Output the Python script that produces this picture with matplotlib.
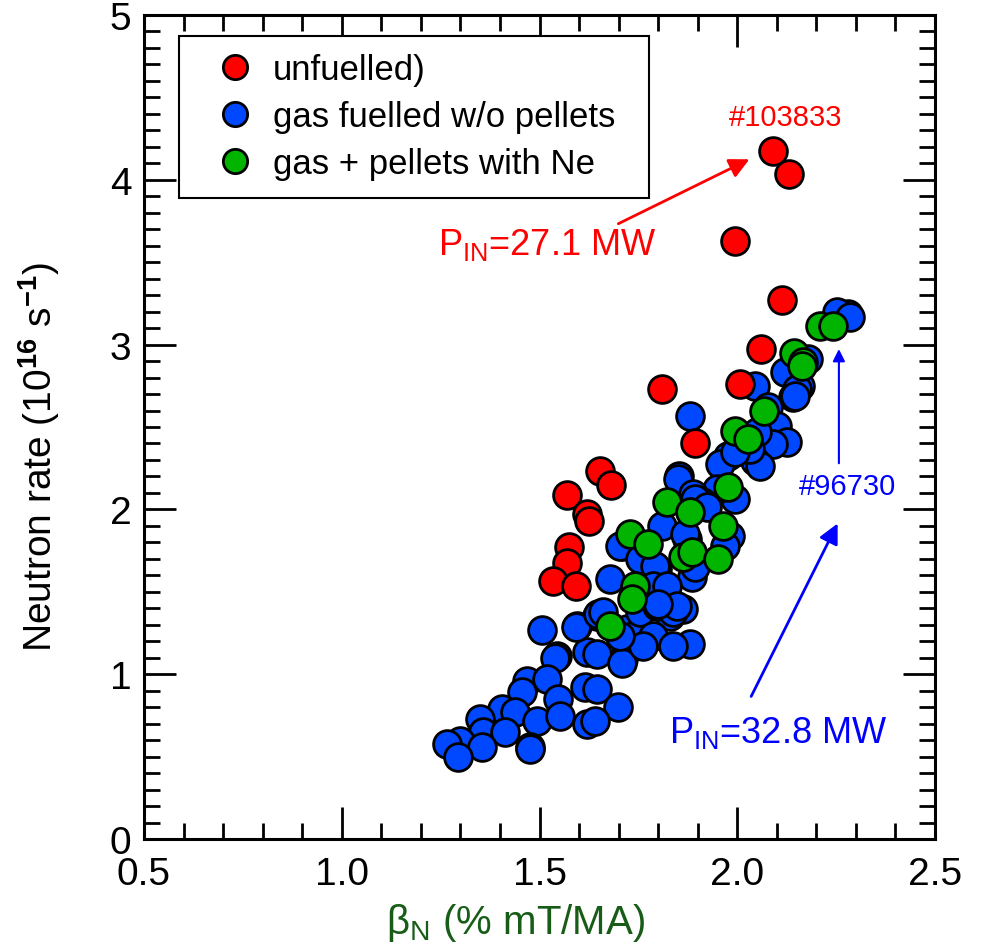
# neutron rate vs beta_N scatter, three fuelling groups

import matplotlib
matplotlib.use('Agg')
import matplotlib.pyplot as plt
import matplotlib.transforms as mtransforms
from matplotlib.ticker import MultipleLocator, FormatStrFormatter
from matplotlib.lines import Line2D

plt.rcParams['font.family'] = ['Liberation Sans', 'DejaVu Sans']
plt.rcParams['mathtext.fontset'] = 'custom'
plt.rcParams['mathtext.rm'] = 'Liberation Sans'
plt.rcParams['mathtext.it'] = 'Liberation Sans:italic'
plt.rcParams['mathtext.bf'] = 'Liberation Sans:bold'

# Data
red_x = [2.090, 2.131, 1.994, 2.113, 2.060, 1.810, 2.007, 1.893, 1.653, 1.681,
         1.570, 1.620, 1.625, 1.575, 1.570, 1.534, 1.592]
red_y = [4.175, 4.035, 3.629, 3.271, 2.973, 2.731, 2.761, 2.403, 2.233, 2.148,
         2.087, 1.972, 1.930, 1.772, 1.675, 1.566, 1.535]

green_x = [2.209, 2.242, 2.143, 2.166, 2.164, 2.068, 1.994, 2.027, 1.977, 1.822,
           1.881, 1.964, 1.729, 1.774, 1.863, 1.886, 1.951, 1.741, 1.734, 1.678]
green_y = [3.113, 3.113, 2.949, 2.894, 2.870, 2.597, 2.476, 2.427, 2.136, 2.045,
           1.984, 1.899, 1.851, 1.790, 1.711, 1.742, 1.699, 1.535, 1.456, 1.292]

blue_x = [2.260, 2.280, 2.252, 2.285, 2.128, 2.151, 2.159, 2.141, 2.121, 2.179,
          2.151, 2.045, 1.881, 2.078, 2.100, 2.126, 2.090, 2.050, 1.977, 2.045,
          2.058, 1.853, 2.032, 1.956, 1.994, 1.949, 1.982, 1.850, 1.888, 1.911,
          1.810, 1.873, 1.709, 1.762, 1.797, 1.886, 1.678, 1.779, 1.812, 1.863,
          1.805, 1.830, 1.881, 1.767, 1.721, 1.595, 1.645, 1.544, 1.620, 1.711,
          1.736, 1.506, 1.592, 1.648, 1.539, 1.645, 1.709, 1.468, 1.519, 1.456,
          1.547, 1.615, 1.645, 1.698, 1.405, 1.438, 1.494, 1.552, 1.620, 1.640,
          1.350, 1.357, 1.413, 1.299, 1.476, 1.266, 1.355, 1.754, 1.797, 1.838,
          1.787, 1.838, 1.762, 1.704, 1.294, 1.476, 1.994, 1.893, 1.923, 1.704,
          1.754, 1.792, 1.868, 1.893, 1.969, 1.787, 1.822, 1.848, 1.800, 1.661,
          2.146]
blue_y = [3.174, 3.186, 3.198, 3.167, 2.840, 2.791, 2.749, 2.682, 2.834, 2.913,
          2.731, 2.749, 2.567, 2.621, 2.506, 2.409, 2.397, 2.470, 2.324, 2.294,
          2.263, 2.203, 2.367, 2.276, 2.063, 2.124, 1.839, 2.184, 2.093, 2.045,
          1.899, 1.820, 1.778, 1.687, 1.638, 1.590, 1.578, 1.578, 1.535, 1.396,
          1.414, 1.353, 1.183, 1.232, 1.274, 1.292, 1.353, 1.110, 1.135, 1.092,
          1.232, 1.268, 1.286, 1.365, 1.098, 1.123, 1.068, 0.959, 0.971, 0.892,
          0.850, 0.922, 0.910, 0.801, 0.789, 0.771, 0.716, 0.746, 0.698, 0.716,
          0.728, 0.649, 0.649, 0.595, 0.558, 0.576, 0.558, 1.377, 1.414, 1.377,
          1.232, 1.171, 1.171, 1.232, 0.498, 0.546, 2.348, 2.063, 2.015, 1.778,
          1.699, 1.657, 1.851, 1.650, 1.778, 1.535, 1.535, 1.414, 1.426, 1.377,
          2.688]

labels = ['unfuelled)', 'gas fuelled w/o pellets', 'gas + pellets with Ne']
c_red = '#ff0000'
c_blue = '#0048ff'
c_green = '#00b400'

fig = plt.figure(figsize=(9.87, 9.45), dpi=100)
ax = fig.add_axes([144/987, 1 - 840/945, 791/987, 824/945])

ms = 400
ax.scatter(blue_x, blue_y, s=ms, c=c_blue, edgecolors='k', linewidths=2, zorder=3)
ax.scatter(green_x, green_y, s=ms, c=c_green, edgecolors='k', linewidths=2, zorder=4)
ax.scatter(red_x, red_y, s=ms, c=c_red, edgecolors='k', linewidths=2, zorder=5)

ax.set_xlim(0.5, 2.5)
ax.set_ylim(0, 5)
ax.xaxis.set_major_locator(MultipleLocator(0.5))
ax.xaxis.set_minor_locator(MultipleLocator(0.1))
ax.yaxis.set_major_locator(MultipleLocator(1))
ax.yaxis.set_minor_locator(MultipleLocator(0.1))
ax.xaxis.set_major_formatter(FormatStrFormatter('%.1f'))
ax.yaxis.set_major_formatter(FormatStrFormatter('%d'))
ax.tick_params(which='both', direction='in', top=True, right=True, width=2)
ax.tick_params(which='major', length=23, labelsize=28)
ax.tick_params(axis='x', which='major', pad=12)
ax.tick_params(axis='y', which='major', pad=9)
ax.tick_params(which='minor', length=11.5)
for sp in ax.spines.values():
    sp.set_linewidth(2.2)

# the "0" label sits a little higher in the original
lab0 = ax.yaxis.get_major_ticks()[0].label1
lab0.set_transform(lab0.get_transform() +
                   mtransforms.ScaledTranslation(0, 7/72, fig.dpi_scale_trans))

ax.set_xlabel(r'$\mathregular{\beta_N}$ (% mT/MA)', fontsize=29, color='#175c17')
ax.set_ylabel(r'Neutron rate (10$^{\mathbf{16}}$ s$^{\mathbf{-1}}$)', fontsize=28)
ax.xaxis.set_label_coords(0.47, -0.075)
ax.yaxis.set_label_coords(-0.104, 0.465)

# legend
handles = [Line2D([], [], ls='none', marker='o', ms=17.5, mfc=c, mec='k', mew=2)
           for c in (c_red, c_blue, c_green)]
leg = ax.legend(handles, labels, loc='upper left',
                bbox_to_anchor=(0.0442, 0.0, 470/791, 0.9745), mode='expand',
                borderaxespad=0, fontsize=25, frameon=True, fancybox=False,
                edgecolor='k', framealpha=1, handletextpad=-0.05, labelspacing=0.4,
                borderpad=0.5, handlelength=2.25)
leg.get_frame().set_linewidth(1.5)
leg.set_zorder(10)

# annotations
ax.annotate('', xy=(2.037, 4.132), xytext=(1.693, 3.726),
            arrowprops=dict(arrowstyle='-|>', color='#ff0000', lw=2, mutation_scale=30))
ax.text(2.123, 4.38, '#103833', color='#ff0000', fontsize=21, ha='center', va='center')
ax.text(1.243, 3.61, r'P$_{\mathregular{IN}}$=27.1 MW', color='#ff0000', fontsize=26,
        ha='left', va='center')

ax.annotate('', xy=(2.257, 1.93), xytext=(2.032, 0.85),
            arrowprops=dict(arrowstyle='-|>', color='#0000ff', lw=2, mutation_scale=30))
ax.annotate('', xy=(2.257, 2.99), xytext=(2.257, 2.263),
            arrowprops=dict(arrowstyle='-|>', color='#0000ff', lw=1.5, mutation_scale=18))
ax.text(2.278, 2.14, '#96730', color='#0000ff', fontsize=21, ha='center', va='center')
ax.text(1.827, 0.65, r'P$_{\mathregular{IN}}$=32.8 MW', color='#0000ff', fontsize=26,
        ha='left', va='center')

fig.savefig('out.png', dpi=100)
